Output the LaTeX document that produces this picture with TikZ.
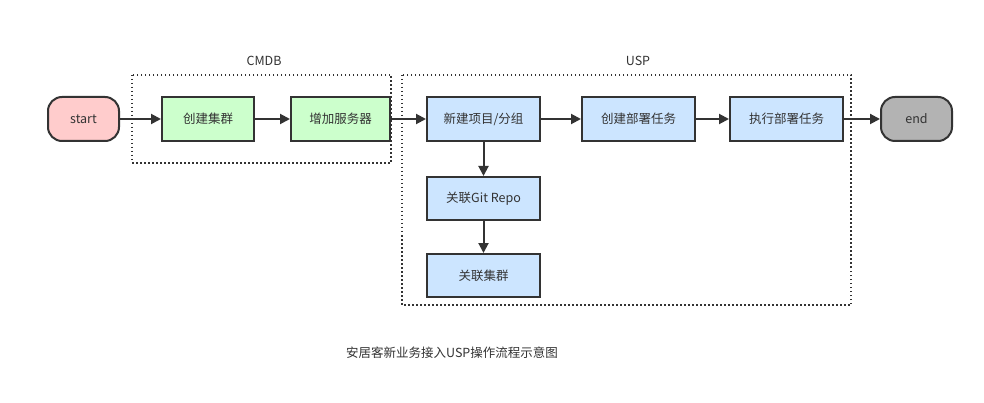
\documentclass[tikz,border=0pt]{standalone}
\usepackage{fontspec}
\setmainfont{Noto Sans CJK SC}
\usetikzlibrary{arrows.meta}
\definecolor{ink}{HTML}{333333}
\definecolor{pinkf}{HTML}{FFCCCC}
\definecolor{greenf}{HTML}{CCFFCC}
\definecolor{bluef}{HTML}{CCE5FF}
\definecolor{grayf}{HTML}{B3B3B3}
\begin{document}
\begin{tikzpicture}[x=1pt,y=-1pt,
  every node/.style={font=\fontsize{12.5}{15}\selectfont, text=ink},
  box/.style={draw=ink, line width=2pt, minimum height=44pt, inner sep=0pt},
  term/.style={box, rounded corners=14pt, minimum width=71pt},
  arr/.style={draw=ink, line width=2pt, -{Triangle[length=10pt,width=10pt]}},
  grp/.style={draw=ink, line width=1.5pt, dash pattern=on 1.5pt off 2.5pt}]
\useasboundingbox (0,0) rectangle (984,403);
\fill[white] (0,0) rectangle (984,403);
% groups
\draw[grp] (132,75) rectangle (391,163);
\draw[grp] (402,75) rectangle (851,305);
\node (cmdb) at (264,61) {CMDB};
\node (usp) at (638,61) {USP};
% nodes
\node[term, fill=pinkf] (start) at (83.5,119) {start};
\node[box, fill=greenf, minimum width=92pt] (n1) at (208,119) {创建集群};
\node[box, fill=greenf, minimum width=99pt] (n2) at (340.5,119) {增加服务器};
\node[box, fill=bluef, minimum width=113pt] (n3) at (483.5,119) {新建项目/分组};
\node[box, fill=bluef, minimum width=113pt] (n4) at (638.5,119) {创建部署任务};
\node[box, fill=bluef, minimum width=113pt] (n5) at (786.5,119) {执行部署任务};
\node[term, fill=grayf] (end) at (916.5,119) {end};
\node[box, fill=bluef, minimum width=113pt, minimum height=43pt] (n6) at (483.5,198.5) {关联Git Repo};
\node[box, fill=bluef, minimum width=113pt, minimum height=43pt] (n7) at (483.5,275.5) {关联集群};
\node (cap) at (452,353) {安居客新业务接入USP操作流程示意图};
% connectors
\draw[arr] (start) -- (n1);
\draw[arr] (n1) -- (n2);
\draw[arr] (n2) -- (n3);
\draw[arr] (n3) -- (n4);
\draw[arr] (n4) -- (n5);
\draw[arr] (n5) -- (end);
\draw[arr] (n3) -- (n6);
\draw[arr] (n6) -- (n7);
\end{tikzpicture}
\end{document}
